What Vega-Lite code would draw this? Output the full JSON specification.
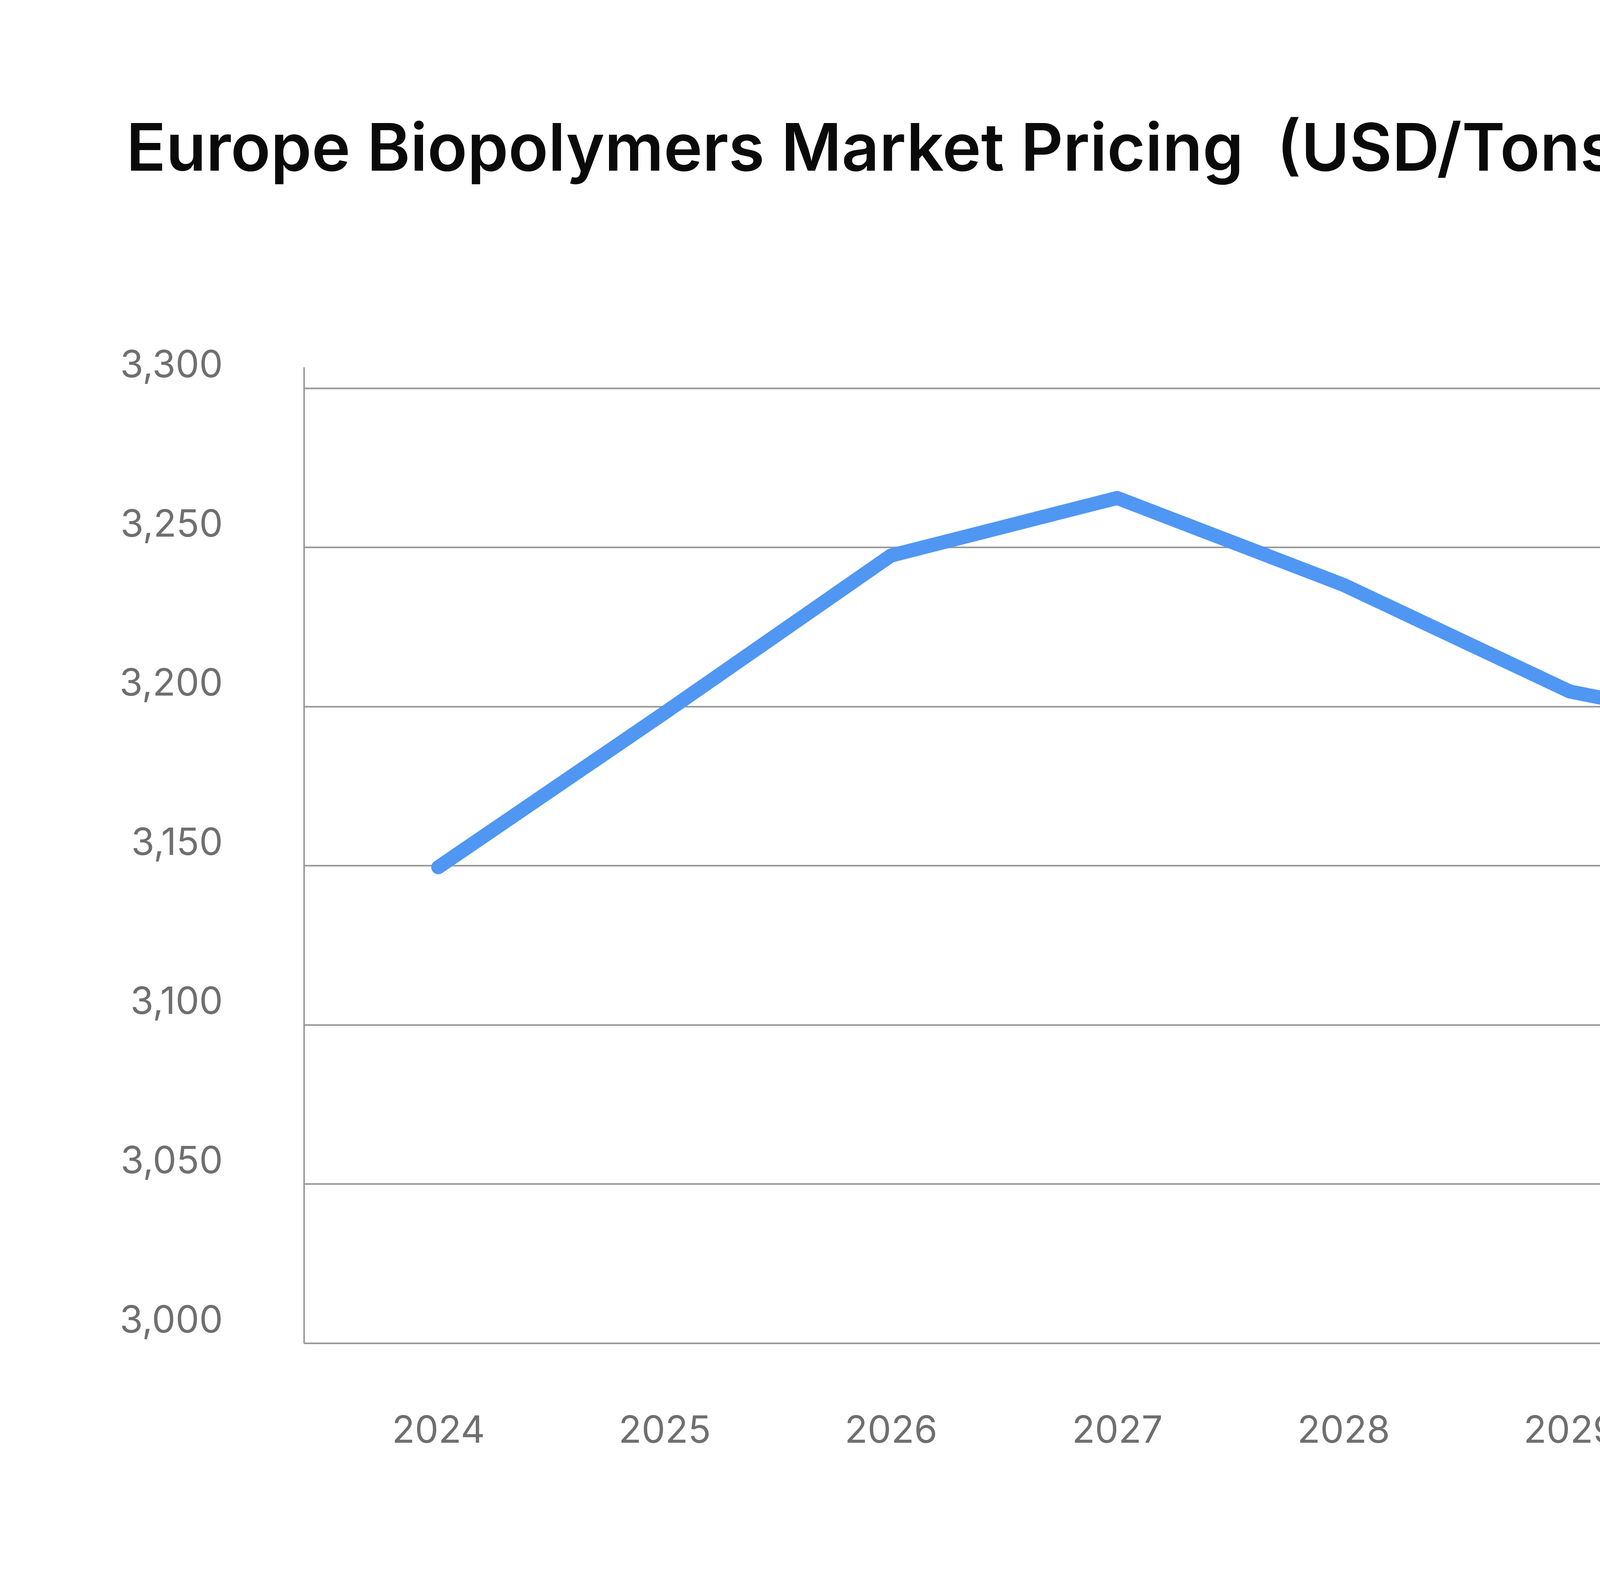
{
  "$schema": "https://vega.github.io/schema/vega-lite/v6.json",
  "description": "Europe Biopolymers Market Pricing (USD/Tons), 2024-2033.",
  "autosize": {"type": "none"},
  "width": 5974,
  "height": 2499,
  "padding": {"left": 778, "top": 940, "right": 308, "bottom": 609},
  "background": "white",
  "title": {
    "text": "Europe Biopolymers Market Pricing\u00a0 (USD/Tons)",
    "anchor": "start",
    "frame": "group",
    "baseline": "alphabetic",
    "dx": -455,
    "offset": 284,
    "font": "Inter",
    "fontSize": 168,
    "fontWeight": 600,
    "color": "#0a0a0a"
  },
  "data": {
    "values": [
      {"Year": "2024", "Price": 3149.5},
      {"Year": "2025", "Price": 3198},
      {"Year": "2026", "Price": 3247.4},
      {"Year": "2027", "Price": 3265.5},
      {"Year": "2028", "Price": 3238.2},
      {"Year": "2029", "Price": 3204.7},
      {"Year": "2030", "Price": 3190.6},
      {"Year": "2031", "Price": 3165.3},
      {"Year": "2032", "Price": 3142.3},
      {"Year": "2033", "Price": 3103.7}
    ]
  },
  "mark": {
    "type": "line",
    "color": "#5097f3",
    "strokeWidth": 36,
    "strokeCap": "round",
    "strokeJoin": "round"
  },
  "encoding": {
    "x": {
      "field": "Year",
      "type": "ordinal",
      "scale": {"type": "point", "padding": 0.656, "align": 0.4526},
      "axis": {
        "title": null,
        "domain": false,
        "ticks": false,
        "grid": false,
        "labelAngle": 0,
        "labelPadding": 178,
        "labelBaseline": "top",
        "labelLimit": 0
      }
    },
    "y": {
      "field": "Price",
      "type": "quantitative",
      "scale": {"domain": [3000, 3306.6], "nice": false, "zero": false},
      "axis": {
        "title": null,
        "values": [3000, 3050, 3100, 3150, 3200, 3250, 3300],
        "format": ",.0f",
        "grid": true,
        "ticks": false,
        "tickSize": 0,
        "domain": true,
        "labelPadding": 208,
        "labelOffset": -57,
        "labelLimit": 0
      }
    }
  },
  "config": {
    "view": {"stroke": null},
    "axis": {
      "labelFont": "Inter",
      "labelFontSize": 96,
      "labelColor": "#6f6f6f",
      "gridColor": "#959595",
      "gridWidth": 4,
      "gridOpacity": 1,
      "domainColor": "#959595",
      "domainWidth": 4
    }
  }
}
